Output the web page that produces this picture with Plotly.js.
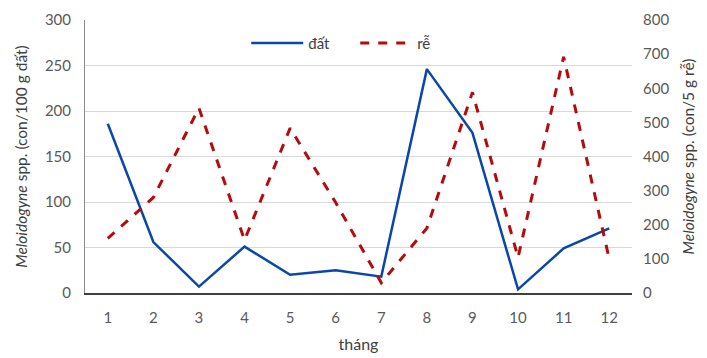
<!DOCTYPE html>
<html><head><meta charset="utf-8">
<script src="https://cdn.plot.ly/plotly-3.0.1.min.js"></script>
<style>body{margin:0;background:#fff}#c{width:707px;height:358px}</style>
</head><body><div id="c"></div>
<script>
const months = ['1','2','3','4','5','6','7','8','9','10','11','12'];
const soil = [186, 56, 7, 51, 20, 25, 18, 246, 176, 4, 49, 71];
const root = [160, 280, 542, 155, 483, 265, 30, 190, 588, 104, 692, 100];
const leftTicks = [0, 50, 100, 150, 200, 250, 300];
const rightTicks = [0, 100, 200, 300, 400, 500, 600, 700, 800];

const font = {family: 'Lato, "Open Sans", sans-serif', size: 15, color: '#595959'};
const data = [
  {x: months, y: soil, name: 'đất', type: 'scatter', mode: 'lines',
   line: {color: '#0a47a8', width: 2.5}, yaxis: 'y'},
  {x: months, y: root, name: 'rễ', type: 'scatter', mode: 'lines',
   line: {color: '#b40c0c', width: 3, dash: 'dash'}, yaxis: 'y2'}
];
const layout = {
  width: 707, height: 358,
  margin: {l: 85, r: 75, t: 20, b: 65},
  paper_bgcolor: '#fff', plot_bgcolor: '#fff',
  font: font,
  showlegend: true,
  legend: {orientation: 'h', x: 0.494, xanchor: 'center', y: 0.915, yanchor: 'middle',
    itemwidth: 52, entrywidth: 42, font: {family: font.family, size: 15, color: '#404040'}, bgcolor: 'rgba(0,0,0,0)'},
  xaxis: {type: 'category', range: [-0.5, 11.5], tickvals: months, ticktext: months, showgrid: false,
    showline: true, linecolor: '#404040', linewidth: 1.5, ticks: '', ticklabelstandoff: 10,
    title: {text: 'tháng', font: {family: font.family, size: 16, color: '#404040'}, standoff: 14},
    tickfont: font, zeroline: false},
  yaxis: {range: [0, 300], tickvals: leftTicks, showgrid: true, gridcolor: '#d9d9d9', gridwidth: 1,
    showline: true, linecolor: '#8a8a8a', linewidth: 1, zeroline: false, ticks: '', ticklabelstandoff: 10,
    tickfont: font,
    title: {text: '<i>Meloidogyne</i> spp. (con/100 g đất)', font: {family: font.family, size: 15.5, color: '#404040'}, standoff: 13}},
  yaxis2: {range: [0, 800], tickvals: rightTicks, overlaying: 'y', side: 'right', showgrid: false,
    showline: false, zeroline: false, ticks: '', ticklabelstandoff: 10, tickfont: font,
    title: {text: '<i>Meloidogyne</i> spp. (con/5 g rễ)', font: {family: font.family, size: 15.5, color: '#404040'}, standoff: 14}}
};
Plotly.newPlot('c', data, layout, {displayModeBar: false, staticPlot: true});
</script></body></html>
